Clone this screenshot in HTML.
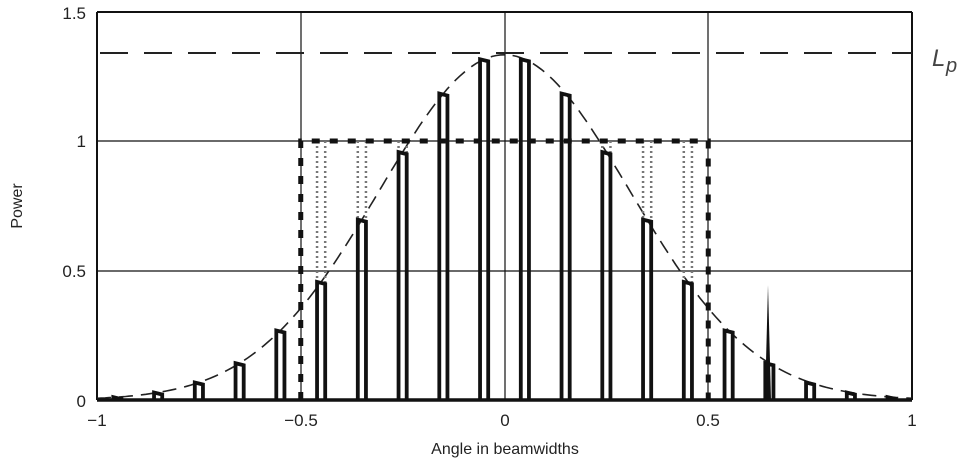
<!DOCTYPE html>
<html><head><meta charset="utf-8"><style>
html,body{margin:0;padding:0;background:#fff;}
svg{display:block;font-family:"Liberation Sans",sans-serif;}
</style></head><body>
<svg id="s" width="968" height="467" viewBox="0 0 968 467" xmlns="http://www.w3.org/2000/svg">
<rect width="968" height="467" fill="#fff"/>
<g stroke="#111" stroke-width="1.2">
<line x1="97" y1="12" x2="97" y2="400" stroke-width="2"/>
<line x1="912" y1="12" x2="912" y2="400" stroke-width="2"/>
<line x1="97" y1="12" x2="912" y2="12" stroke-width="2"/>
<line x1="301" y1="12" x2="301" y2="400"/>
<line x1="505" y1="12" x2="505" y2="400"/>
<line x1="708" y1="12" x2="708" y2="400"/>
<line x1="97" y1="141" x2="912" y2="141"/>
<line x1="97" y1="271" x2="912" y2="271"/>
</g>
<line x1="100" y1="53" x2="912" y2="53" stroke="#222" stroke-width="2" stroke-dasharray="28,16"/>
<g id="dyn"></g>
<line x1="97" y1="400" x2="912" y2="400" stroke="#111" stroke-width="3.5"/>
<g font-size="17" fill="#222">
<text x="86" y="19" text-anchor="end">1.5</text>
<text x="86" y="147" text-anchor="end">1</text>
<text x="86" y="277" text-anchor="end">0.5</text>
<text x="86" y="407" text-anchor="end">0</text>
<text x="97" y="426" text-anchor="middle">−1</text>
<text x="301" y="426" text-anchor="middle">−0.5</text>
<text x="505" y="426" text-anchor="middle">0</text>
<text x="708" y="426" text-anchor="middle">0.5</text>
<text x="912" y="426" text-anchor="middle">1</text>
<text x="505" y="454" text-anchor="middle" font-size="16">Angle in beamwidths</text>
<text transform="translate(22,206) rotate(-90)" text-anchor="middle" font-size="16">Power</text>
<text x="932" y="66" font-size="24" font-style="italic" fill="#444">L</text>
<text x="946" y="72" font-size="20" font-style="italic" fill="#444">p</text>
</g>
</svg>
<script>
var g=document.getElementById('dyn'),NS='http://www.w3.org/2000/svg';
function X(u){return 504.5+u*407.5;}function Y(v){return 400-v*259;}
function f(u){return 1.333*Math.exp(-5.3*u*u);}
function el(n,a){var e=document.createElementNS(NS,n);for(var k in a)e.setAttribute(k,a[k]);g.appendChild(e);return e;}
var d='';for(var i=0;i<=200;i++){var u=-1+i*0.01;d+=(i?'L':'M')+X(u).toFixed(1)+' '+Y(f(u)).toFixed(1);}
el('path',{d:d,fill:'none',stroke:'#222','stroke-width':1.6,'stroke-dasharray':'14,8'});
for(var k=-9.5;k<=9.5;k+=1){var c=k*0.1,h=f(c),x1=X(c-0.01),x2=X(c+0.01),y=Y(h);
 if(Math.abs(c)<0.5){
  el('line',{x1:x1,y1:Y(1),x2:x1,y2:400,stroke:'#777','stroke-width':2.5,'stroke-dasharray':'2,3'});
  el('line',{x1:x2,y1:Y(1),x2:x2,y2:400,stroke:'#777','stroke-width':2.5,'stroke-dasharray':'2,3'});
 }
 el('path',{d:'M'+x1+' 400L'+x1+' '+y+'L'+x2+' '+(y+2)+'L'+x2+' 400',fill:'none',stroke:'#111','stroke-width':3.8});
}
el('path',{d:'M'+X(-0.5)+' 400L'+X(-0.5)+' '+Y(1)+'L'+X(0.5)+' '+Y(1)+'L'+X(0.5)+' 400',fill:'none',stroke:'#111','stroke-width':5,'stroke-dasharray':'8,10'});
el('path',{d:'M765 400L768 285L771 400Z',fill:'#111'});
</script>
</body></html>
